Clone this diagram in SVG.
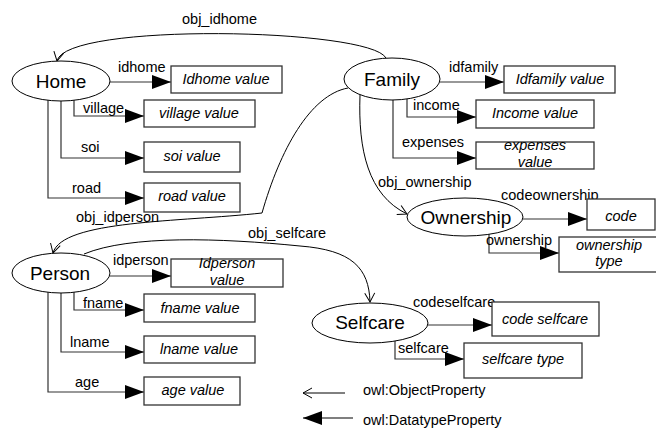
<svg xmlns="http://www.w3.org/2000/svg" width="656" height="432" viewBox="0 0 656 432">
<style>
text{font-family:"Liberation Sans",Arial,sans-serif;fill:#000}
.lbl{font-size:14.5px}
.val{font-size:14.5px;font-style:italic;text-anchor:middle}
.nm{font-size:19px;text-anchor:middle}
.node ellipse{fill:#fff;stroke:#000;stroke-width:1}
.box{fill:#fff;stroke:#333;stroke-width:1.3}
.dp{fill:none;stroke:#333;stroke-width:1.2;marker-end:url(#dt)}
.op{fill:none;stroke:#000;stroke-width:1;marker-end:url(#oa)}
</style>
<defs>
<marker id="dt" markerUnits="userSpaceOnUse" markerWidth="20" markerHeight="14" refX="19" refY="7" orient="auto"><path d="M0,0 L19,7 L0,14 z" fill="#000"/></marker>
<marker id="oa" markerUnits="userSpaceOnUse" markerWidth="12" markerHeight="12" refX="10" refY="6" orient="auto"><path d="M1,1 L10,6 L1,11" fill="none" stroke="#000" stroke-width="1"/></marker>
</defs>
<rect width="656" height="432" fill="#fff"/>

<g id="connectors">
<path class="op" d="M386 58 C370 28 65 22 57 61"/>
<path class="op" d="M348 88 C310 95 280 150 262 213 C180 222 62 220 53 253"/>
<path class="op" d="M360 95 C358 150 368 195 407 214"/>
<path class="op" d="M84 254 C130 235 220 238 300 246 C352 250 369 268 370 302"/>
<path class="dp" d="M110 82 H171"/>
<path class="dp" d="M74 100 V116 H144"/>
<path class="dp" d="M61 101 V158 H144"/>
<path class="dp" d="M48 100 V198 H144"/>
<path class="dp" d="M440 82 H504"/>
<path class="dp" d="M407 99 V117 H476"/>
<path class="dp" d="M393 100 V158 H476"/>
<path class="dp" d="M523 219 H587"/>
<path class="dp" d="M489 234 V253 H559"/>
<path class="dp" d="M110 276 H171"/>
<path class="dp" d="M74 292 V310 H144"/>
<path class="dp" d="M61 293 V352 H144"/>
<path class="dp" d="M48 292 V392 H144"/>
<path class="dp" d="M428 325 H492"/>
<path class="dp" d="M395 341 V359 H464"/>
<text class="lbl" x="182" y="24">obj_idhome</text>
<text class="lbl" x="76" y="222">obj_idperson</text>
<text class="lbl" x="378" y="187">obj_ownership</text>
<text class="lbl" x="248" y="238">obj_selfcare</text>
<text class="lbl" x="118" y="72">idhome</text>
<text class="lbl" x="83" y="113">village</text>
<text class="lbl" x="81" y="152">soi</text>
<text class="lbl" x="72" y="193">road</text>
<text class="lbl" x="449" y="72">idfamily</text>
<text class="lbl" x="413" y="110">income</text>
<text class="lbl" x="402" y="147">expenses</text>
<text class="lbl" x="501" y="200">codeownership</text>
<text class="lbl" x="486" y="245">ownership</text>
<text class="lbl" x="113" y="265">idperson</text>
<text class="lbl" x="83" y="308">fname</text>
<text class="lbl" x="70" y="347">lname</text>
<text class="lbl" x="75" y="387">age</text>
<text class="lbl" x="413" y="307">codeselfcare</text>
<text class="lbl" x="398" y="353">selfcare</text>
</g>

<g id="Home" class="node"><ellipse cx="61" cy="81" rx="49" ry="20"/><text class="nm" x="61" y="88">Home</text></g>
<g id="Family" class="node"><ellipse cx="392" cy="79" rx="48" ry="21"/><text class="nm" x="392" y="86">Family</text></g>
<g id="Ownership" class="node"><ellipse cx="465" cy="217" rx="58" ry="19"/><text class="nm" x="466" y="224">Ownership</text></g>
<g id="Person" class="node"><ellipse cx="61" cy="273" rx="49" ry="20"/><text class="nm" x="60" y="280">Person</text></g>
<g id="Selfcare" class="node"><ellipse cx="370" cy="323" rx="58" ry="20"/><text class="nm" x="370" y="329">Selfcare</text></g>

<g id="IdhomeValue"><rect class="box" x="171" y="66" width="111" height="27"/><text class="val" x="226" y="84">Idhome value</text></g>
<g id="VillageValue"><rect class="box" x="144" y="100" width="111" height="27"/><text class="val" x="199" y="118">village value</text></g>
<g id="SoiValue"><rect class="box" x="144" y="142" width="96" height="30"/><text class="val" x="192" y="161">soi value</text></g>
<g id="RoadValue"><rect class="box" x="144" y="183" width="96" height="29"/><text class="val" x="192" y="201">road value</text></g>
<g id="IdfamilyValue"><rect class="box" x="504" y="66" width="111" height="27"/><text class="val" x="560" y="84">Idfamily value</text></g>
<g id="IncomeValue"><rect class="box" x="476" y="100" width="118" height="28"/><text class="val" x="535" y="118">Income value</text></g>
<g id="ExpensesValue"><rect class="box" x="476" y="142" width="118" height="27"/><text class="val" x="535" y="150">expenses</text><text class="val" x="535" y="167">value</text></g>
<g id="CodeValue"><rect class="box" x="587" y="199" width="68" height="31"/><text class="val" x="621" y="221">code</text></g>
<g id="OwnershipType"><rect class="box" x="559" y="237" width="100" height="35"/><text class="val" x="609" y="250">ownership</text><text class="val" x="609" y="266">type</text></g>
<g id="IdpersonValue"><rect class="box" x="171" y="259" width="112" height="28"/><text class="val" x="227" y="268">Idperson</text><text class="val" x="227" y="285">value</text></g>
<g id="FnameValue"><rect class="box" x="144" y="294" width="111" height="28"/><text class="val" x="200" y="313">fname value</text></g>
<g id="LnameValue"><rect class="box" x="144" y="336" width="111" height="27"/><text class="val" x="199" y="354">lname value</text></g>
<g id="AgeValue"><rect class="box" x="144" y="377" width="96" height="28"/><text class="val" x="193" y="395">age value</text></g>
<g id="CodeSelfcare"><rect class="box" x="492" y="302" width="107" height="34"/><text class="val" x="545" y="324">code selfcare</text></g>
<g id="SelfcareType"><rect class="box" x="464" y="343" width="118" height="35"/><text class="val" x="523" y="364">selfcare type</text></g>

<g id="legend">
<path class="op" d="M345 393 H303"/>
<path class="dp" d="M353 418 H303" style="stroke:#000"/>
<text class="lbl" x="363" y="395">owl:ObjectProperty</text>
<text class="lbl" x="363" y="425">owl:DatatypeProperty</text>
</g>
</svg>
